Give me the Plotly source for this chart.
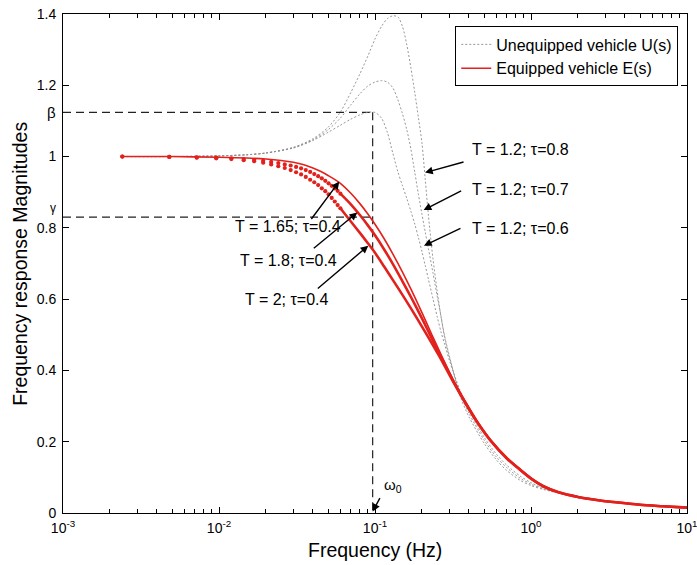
import math
import plotly.graph_objects as go

# ---------------- data ----------------
# Unequipped vehicle U(s): T = 1.2 with tau = 0.6 / 0.7 / 0.8
F_GRAY = [0.0024, 0.005, 0.01, 0.015, 0.02, 0.03, 0.04, 0.05, 0.06, 0.07, 0.08, 0.09,
          0.1, 0.11, 0.12, 0.13, 0.14, 0.15, 0.16, 0.17, 0.18, 0.19, 0.2, 0.21, 0.22,
          0.235, 0.25, 0.265, 0.28, 0.3, 0.35, 0.4, 0.5, 0.6, 0.7, 0.85, 1.0, 1.2, 1.5,
          2.0, 3.0, 5.0, 7.0, 10.0]
U_TAU06 = [1.000, 1.000, 1.002, 1.005, 1.010, 1.024, 1.045, 1.068, 1.088, 1.105, 1.117, 1.124,
           1.124, 1.108, 1.068, 1.010, 0.958, 0.918, 0.882, 0.846, 0.810, 0.772, 0.733, 0.694, 0.656,
           0.602, 0.552, 0.508, 0.472, 0.428, 0.345, 0.288, 0.213, 0.165, 0.134, 0.104, 0.085, 0.070, 0.058,
           0.047, 0.034, 0.024, 0.019, 0.015]
U_TAU07 = [1.000, 1.000, 1.002, 1.005, 1.010, 1.025, 1.047, 1.075, 1.108, 1.145, 1.176, 1.198,
           1.209, 1.213, 1.209, 1.193, 1.160, 1.120, 1.075, 1.020, 0.955, 0.893, 0.838, 0.788, 0.742,
           0.675, 0.610, 0.552, 0.490, 0.436, 0.338, 0.280, 0.205, 0.157, 0.127, 0.098, 0.081, 0.068, 0.057,
           0.046, 0.034, 0.024, 0.019, 0.015]
U_TAU08 = [1.000, 1.000, 1.002, 1.005, 1.010, 1.026, 1.050, 1.082, 1.125, 1.180, 1.232, 1.282,
           1.330, 1.365, 1.387, 1.395, 1.392, 1.365, 1.313, 1.248, 1.179, 1.108, 1.038, 0.935, 0.835,
           0.715, 0.625, 0.550, 0.495, 0.440, 0.330, 0.270, 0.196, 0.149, 0.119, 0.092, 0.077, 0.066, 0.056,
           0.045, 0.033, 0.024, 0.019, 0.015]

# Equipped vehicle E(s): T = 1.65, tau = 0.4 (solid)
F_TOP = [0.0024, 0.005, 0.01, 0.015, 0.02, 0.025, 0.03, 0.035, 0.04, 0.045, 0.05,
         0.06, 0.07, 0.08, 0.09, 0.1, 0.115, 0.13, 0.15, 0.17, 0.2, 0.23, 0.27, 0.32, 0.38,
         0.45, 0.55, 0.7, 0.85, 1.0, 1.2, 1.5, 2.0, 2.7, 3.5, 5.0, 7.0, 10.0]
E_T165 = [1.000, 1.000, 0.998, 0.996, 0.993, 0.989, 0.984, 0.977, 0.968, 0.958, 0.947,
          0.925, 0.897, 0.868, 0.839, 0.810, 0.768, 0.727, 0.676, 0.628, 0.562, 0.503, 0.437, 0.370, 0.311,
          0.258, 0.205, 0.155, 0.123, 0.098, 0.076, 0.058, 0.045, 0.036, 0.030, 0.023, 0.019, 0.015]

# Equipped vehicle, dotted series: sampled points (low frequency part)
F_MARK = [0.0024, 0.0048, 0.0072, 0.0096, 0.0120, 0.0144, 0.0168, 0.0192, 0.0216, 0.0240,
          0.0264, 0.0288, 0.0312, 0.0336, 0.0360, 0.0384, 0.0408, 0.0432, 0.0456, 0.0480,
          0.0504, 0.0528, 0.0552, 0.0576, 0.0600]
E_T18_MARK = [1.000, 0.999, 0.998, 0.997, 0.995, 0.993, 0.991, 0.988, 0.985, 0.982,
              0.978, 0.975, 0.971, 0.967, 0.962, 0.957, 0.951, 0.945, 0.939, 0.932,
              0.925, 0.918, 0.911, 0.904, 0.896]
E_T2_MARK = [1.000, 0.999, 0.997, 0.995, 0.993, 0.990, 0.987, 0.983, 0.978, 0.973,
             0.968, 0.962, 0.956, 0.950, 0.943, 0.935, 0.928, 0.920, 0.911, 0.903,
             0.894, 0.884, 0.874, 0.864, 0.855]

# Equipped vehicle, dotted series: dense part (higher frequency)
F_RED = [0.06, 0.07, 0.08, 0.09, 0.1, 0.115, 0.13, 0.15, 0.17, 0.2, 0.23, 0.27, 0.32, 0.38,
         0.45, 0.55, 0.7, 0.85, 1.0, 1.2, 1.5, 2.0, 2.7, 3.5, 5.0, 7.0, 10.0]
E_T18 = [0.896, 0.866, 0.836, 0.807, 0.779, 0.738, 0.699, 0.650, 0.606, 0.546, 0.492, 0.432, 0.368, 0.310,
         0.257, 0.204, 0.154, 0.122, 0.097, 0.075, 0.058, 0.045, 0.036, 0.030, 0.023, 0.019, 0.015]
E_T2 = [0.855, 0.818, 0.786, 0.757, 0.730, 0.690, 0.654, 0.612, 0.574, 0.523, 0.478, 0.425, 0.365, 0.308,
        0.256, 0.203, 0.153, 0.121, 0.096, 0.075, 0.058, 0.045, 0.036, 0.030, 0.023, 0.019, 0.015]

BETA = 1.124
GAMMA = 0.830
OMEGA0 = 0.0966

X_TICKS = [0.001, 0.01, 0.1, 1, 10]
X_TICK_TEXT = ["10<sup>-3</sup>", "10<sup>-2</sup>", "10<sup>-1</sup>", "10<sup>0</sup>", "10<sup>1</sup>"]
X_MINOR = [m * d for d in [0.001, 0.01, 0.1, 1] for m in range(2, 10)]
Y_TICKS = [0, 0.2, 0.4, 0.6, 0.8, 1.0, 1.2, 1.4]
Y_TICK_TEXT = ["0", "0.2", "0.4", "0.6", "0.8", "1", "1.2", "1.4"]

# labels: (text, left x paper, y paper)
CURVE_LABELS = [
    ("T = 1.2; \u03c4=0.8", 0.653, 0.7275),
    ("T = 1.2; \u03c4=0.7", 0.653, 0.6473),
    ("T = 1.2; \u03c4=0.6", 0.653, 0.5705),
    ("T = 1.65; \u03c4=0.4", 0.2724, 0.5737),
    ("T = 1.8; \u03c4=0.4", 0.2804, 0.5070),
    ("T = 2; \u03c4=0.4", 0.2885, 0.4269),
]
# arrows: (tip frequency, tip magnitude, tail dx px, tail dy px)
ARROWS = [
    (0.2093, 0.955, 40, -11),
    (0.2050, 0.850, 39, -20),
    (0.2060, 0.750, 38, -18),
    (0.0590, 0.930, -29, 39),
    (0.0770, 0.843, -45, 37),
    (0.0906, 0.750, -52, 44),
    (OMEGA0, 0.004, 8, -15),
]

FONT = "Liberation Sans, Arial, Helvetica, sans-serif"
GRAY = "rgb(140,140,140)"
RED = "rgb(226,32,28)"
DASH = "8px,5px"

fig = go.Figure()

# dashed reference lines
fig.add_trace(go.Scatter(x=[X_TICKS[0], OMEGA0], y=[BETA, BETA], mode="lines",
                         line=dict(color="#222", width=1.2, dash=DASH), showlegend=False, hoverinfo="skip"))
fig.add_trace(go.Scatter(x=[X_TICKS[0], OMEGA0], y=[GAMMA, GAMMA], mode="lines",
                         line=dict(color="#222", width=1.2, dash=DASH), showlegend=False, hoverinfo="skip"))
fig.add_trace(go.Scatter(x=[OMEGA0, OMEGA0], y=[BETA, 0], mode="lines",
                         line=dict(color="#222", width=1.2, dash=DASH), showlegend=False, hoverinfo="skip"))

# unequipped curves
for i, ys in enumerate([U_TAU08, U_TAU07, U_TAU06]):
    fig.add_trace(go.Scatter(x=F_GRAY, y=ys, mode="lines", name="Unequipped vehicle U(s)",
                             line=dict(color=GRAY, width=0.9, dash="2px,2px", shape="spline", smoothing=0.8),
                             showlegend=(i == 0), legendrank=1))

# equipped curves
fig.add_trace(go.Scatter(x=F_TOP, y=E_T165, mode="lines", name="Equipped vehicle E(s)",
                         line=dict(color=RED, width=1.6, shape="spline", smoothing=0.8),
                         showlegend=True, legendrank=2))
for ys_line, ys_mark in [(E_T18, E_T18_MARK), (E_T2, E_T2_MARK)]:
    fig.add_trace(go.Scatter(x=F_RED, y=ys_line, mode="lines",
                             line=dict(color=RED, width=2.6, shape="spline", smoothing=0.8),
                             showlegend=False))
    fig.add_trace(go.Scatter(x=F_MARK, y=ys_mark, mode="markers",
                             marker=dict(color=RED, size=4.2, line=dict(width=0)),
                             showlegend=False))

annotations = []
for text, px, py in CURVE_LABELS:
    annotations.append(dict(text=text, x=px, y=py, xref="paper", yref="paper",
                            xanchor="left", yanchor="middle", showarrow=False,
                            font=dict(family=FONT, size=16, color="black")))
for f, yv, dx, dy in ARROWS:
    annotations.append(dict(text="", x=math.log10(f), y=yv, xref="x", yref="y",
                            ax=dx, ay=dy, showarrow=True, arrowhead=2, arrowsize=1.1,
                            arrowwidth=1.4, arrowcolor="black"))
annotations += [
    dict(text="\u03b2", x=-0.018, y=BETA, xref="paper", yref="y", xanchor="center", yanchor="middle",
         showarrow=False, font=dict(family=FONT, size=15, color="black")),
    dict(text="\u03b3", x=-0.016, y=GAMMA + 0.025, xref="paper", yref="y", xanchor="center",
         yanchor="middle", showarrow=False, font=dict(family=FONT, size=12, color="black")),
    dict(text="\u03c9<sub>0</sub>", x=0.512, y=0.055, xref="paper", yref="paper", xanchor="left",
         yanchor="middle", showarrow=False, font=dict(family=FONT, size=15, color="black")),
    dict(text="Frequency (Hz)", x=0.5, y=-0.074, xref="paper", yref="paper", xanchor="center",
         yanchor="middle", showarrow=False, font=dict(family=FONT, size=19.5, color="black")),
    dict(text="Frequency response Magnitudes", x=-0.07, y=0.5, xref="paper", yref="paper",
         xanchor="center", yanchor="middle", textangle=-90, showarrow=False,
         font=dict(family=FONT, size=19.5, color="black")),
]

fig.update_layout(
    width=697, height=565,
    margin=dict(l=63, r=10, t=14, b=52, autoexpand=False),
    paper_bgcolor="white", plot_bgcolor="white",
    font=dict(family=FONT, color="black", size=14),
    annotations=annotations,
    legend=dict(x=0.986, y=0.975, xanchor="right", yanchor="top",
                bgcolor="white", bordercolor="black", borderwidth=1,
                font=dict(family=FONT, size=16, color="black"),
                traceorder="normal", tracegroupgap=0),
    showlegend=True,
)
fig.update_xaxes(type="log", range=[-3, 1], tickmode="array", tickvals=X_TICKS, ticktext=X_TICK_TEXT,
                 showgrid=False, zeroline=False, showline=True, linecolor="black", linewidth=1,
                 mirror="allticks", ticks="inside", ticklen=6, tickcolor="black", automargin=False,
                 ticklabeloverflow="allow", ticklabelstandoff=2,
                 tickfont=dict(family=FONT, size=14, color="black"),
                 minor=dict(tickmode="array", tickvals=X_MINOR, ticks="inside", ticklen=4,
                            tickcolor="black", showgrid=False))
fig.update_yaxes(range=[0, 1.4], tickmode="array", tickvals=Y_TICKS, ticktext=Y_TICK_TEXT,
                 showgrid=False, zeroline=False, showline=True, linecolor="black", linewidth=1,
                 mirror="allticks", ticks="inside", ticklen=6, tickcolor="black", automargin=False,
                 ticklabeloverflow="allow", ticklabelstandoff=3,
                 tickfont=dict(family=FONT, size=14, color="black"))

fig.write_html("out.html", config={"displayModeBar": False},
               post_script="document.body.style.margin='0';")
